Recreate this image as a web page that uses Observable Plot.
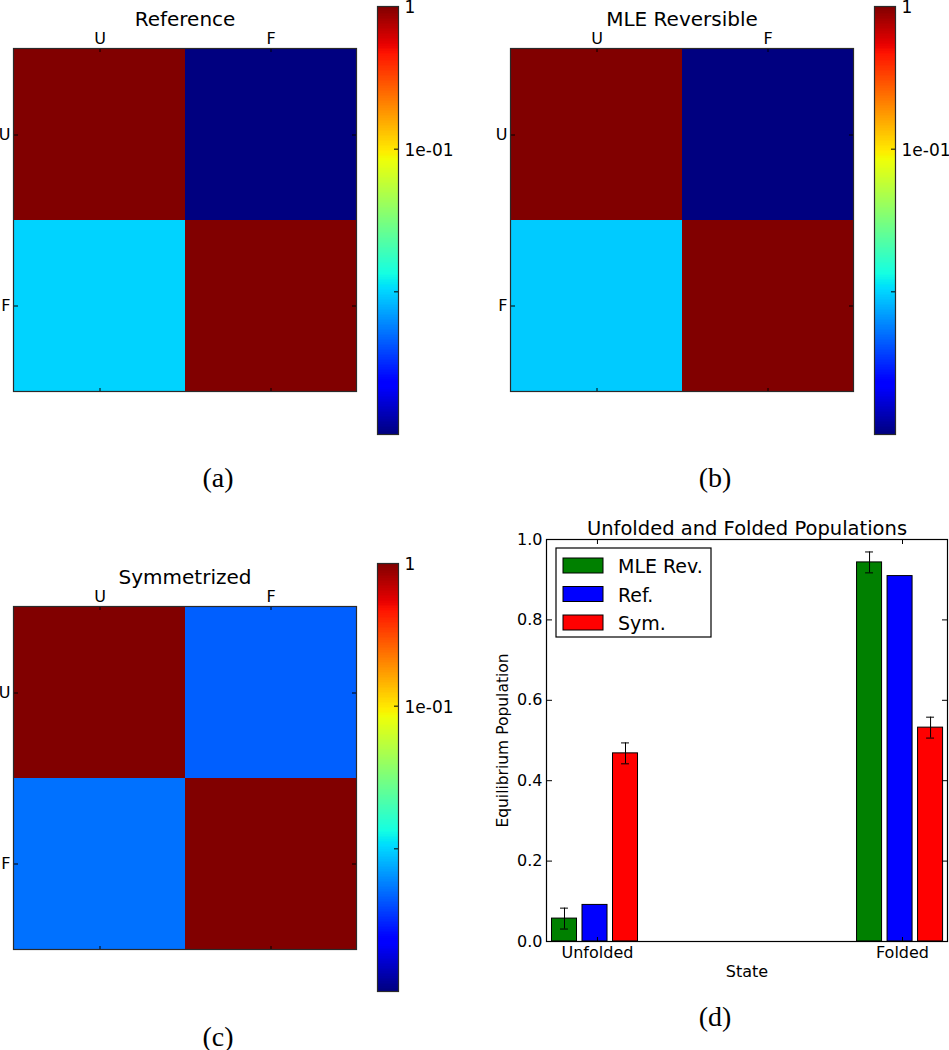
<!DOCTYPE html>
<html>
<head>
<meta charset="utf-8">
<script src="https://cdn.jsdelivr.net/npm/d3@7"></script>
<script src="https://cdn.jsdelivr.net/npm/@observablehq/plot@0.6"></script>
<style>
  body { margin: 0; background: #fff; }
  #fig { position: relative; width: 949px; height: 1050px; overflow: hidden; background: #fff; color: #000; }
  #fig > * { position: absolute; }
</style>
</head>
<body>
<div id="fig"></div>
<script>
// ---------------- data ----------------
const states = ["U", "F"];
// transition matrices, row-major (row U: U,F ; row F: U,F)
const referenceMatrix = [0.99, 0.001, 0.0099, 0.99];
const mleReversibleMatrix = [0.99, 0.001, 0.0094, 0.99];
const symmetrizedMatrix = [0.99, 0.0045, 0.0051, 0.99];
const colorDomain = [0.001, 1];
const colorbarTicks = [1, 0.1, 0.01];
const colorbarTickLabels = ["1", "1e-01", ""];

const groups = ["Unfolded", "Folded"];
const seriesNames = ["MLE Rev.", "Ref.", "Sym."];
const mleRevPop = [0.057, 0.943];
const mleRevErr = [0.026, 0.026];
const refPop = [0.091, 0.909];
const refErr = [0, 0];
const symPop = [0.468, 0.532];
const symErr = [0.026, 0.026];
const seriesColors = ["#008000", "#0000ff", "#ff0000"];
const popTicks = [0, 0.2, 0.4, 0.6, 0.8, 1.0];

// ---------------- matplotlib "jet" ----------------
const JET = {
  r: [[0, 0], [0.35, 0], [0.66, 1], [0.89, 1], [1, 0.5]],
  g: [[0, 0], [0.125, 0], [0.375, 1], [0.64, 1], [0.91, 0], [1, 0]],
  b: [[0, 0.5], [0.11, 1], [0.34, 1], [0.65, 0], [1, 0]]
};
function seg(pts, t) {
  for (let i = 1; i < pts.length; i++) {
    if (t <= pts[i][0]) {
      const [x0, y0] = pts[i - 1], [x1, y1] = pts[i];
      return y0 + (y1 - y0) * (t - x0) / (x1 - x0);
    }
  }
  return pts[pts.length - 1][1];
}
function jet(t) {
  t = Math.max(0, Math.min(1, t));
  const c = v => Math.round(255 * v);
  return `rgb(${c(seg(JET.r, t))},${c(seg(JET.g, t))},${c(seg(JET.b, t))})`;
}
const colorScale = { type: "log", domain: colorDomain, interpolate: jet };

const fig = document.getElementById("fig");
const FONT = "DejaVu Sans, Verdana, sans-serif";
function place(el, left, top) {
  el.style.left = left + "px";
  el.style.top = top + "px";
  fig.appendChild(el);
}

// ---------------- heatmap panels ----------------
function heatmap(title, matrix, marginLeft, width) {
  const cells = states.flatMap((r, i) => states.map((c, j) => ({ row: r, col: c, value: matrix[i * states.length + j] })));
  return Plot.plot({
    width, height: 400,
    marginLeft, marginRight: width - marginLeft - 343, marginTop: 48, marginBottom: 9,
    style: { fontFamily: FONT, fontSize: "16px", background: "transparent", color: "#000", overflow: "visible" },
    x: { domain: states, padding: 0, axis: null },
    y: { domain: states, padding: 0, axis: null },
    color: colorScale,
    marks: [
      Plot.cell(cells, { x: "col", y: "row", fill: "value", inset: 0, shapeRendering: "crispEdges" }),
      Plot.axisX({ anchor: "top", tickSize: 0, tickPadding: 5, label: null, fontSize: 16 }),
      Plot.axisX({ anchor: "bottom", frameAnchor: "top", tickSize: 4, fill: "none", label: null }),
      Plot.axisX({ anchor: "top", frameAnchor: "bottom", tickSize: 4, fill: "none", label: null }),
      Plot.axisY({ anchor: "left", tickSize: 0, tickPadding: 3, label: null, fontSize: 16 }),
      Plot.axisY({ anchor: "right", frameAnchor: "left", tickSize: 4, fill: "none", label: null }),
      Plot.axisY({ anchor: "left", frameAnchor: "right", tickSize: 4, fill: "none", label: null }),
      Plot.frame({ stroke: "#2a2a2a", strokeWidth: 1.2 }),
      Plot.text([title], { text: d => d, frameAnchor: "top", dy: -23, lineAnchor: "bottom", fontSize: 20 })
    ]
  });
}

function colorbar(width) {
  const N = 256;
  const l0 = Math.log10(colorDomain[0]), l1 = Math.log10(colorDomain[1]);
  const bands = d3.range(N).map(i => {
    const lo = Math.pow(10, l0 + (l1 - l0) * i / N);
    const hi = Math.pow(10, l0 + (l1 - l0) * (i + 1) / N);
    return { lo, hi, mid: Math.sqrt(lo * hi) };
  });
  return Plot.plot({
    width, height: 440,
    marginLeft: 17, marginRight: width - 17 - 21, marginTop: 6, marginBottom: 6,
    style: { fontFamily: FONT, fontSize: "17px", background: "transparent", color: "#000", overflow: "visible" },
    x: { domain: [0, 1], axis: null },
    y: { type: "log", domain: colorDomain, axis: null },
    color: colorScale,
    marks: [
      Plot.rect(bands, { x1: 0, x2: 1, y1: "lo", y2: "hi", fill: "mid", shapeRendering: "crispEdges" }),
      Plot.axisY({ anchor: "right", ticks: colorbarTicks, tickSize: 0, tickPadding: 6, label: null, fontSize: 17, dy: 1,
        tickFormat: d => colorbarTickLabels[colorbarTicks.indexOf(d)] }),
      Plot.axisY({ anchor: "left", frameAnchor: "right", ticks: colorbarTicks, tickSize: 4, fill: "none", label: null }),
      Plot.frame({ stroke: "#2a2a2a", strokeWidth: 1.2 })
    ]
  });
}

place(heatmap("Reference", referenceMatrix, 13, 370), 0, 0);
place(colorbar(90), 360, 0);
place(heatmap("MLE Reversible", mleReversibleMatrix, 40, 400), 470, 0);
place(colorbar(92), 857, 0);
place(heatmap("Symmetrized", symmetrizedMatrix, 13, 370), 0, 558);
place(colorbar(90), 360, 557);

// ---------------- bar chart ----------------
const seriesValues = [mleRevPop, refPop, symPop];
const seriesErrors = [mleRevErr, refErr, symErr];
const barWidth = 0.082, barStep = 0.1, barShift = -0.008;
const barData = seriesNames.flatMap((s, k) => groups.map((g, i) => {
  const c = i + (k - 1) * barStep + barShift;
  return { series: s, color: seriesColors[k], c, x1: c - barWidth / 2, x2: c + barWidth / 2,
           value: seriesValues[k][i], err: seriesErrors[k][i] };
}));
const errData = barData.filter(d => d.err > 0);
const capHalf = 0.013;

const bars = Plot.plot({
  width: 469, height: 500,
  marginLeft: 66, marginRight: 2, marginTop: 39, marginBottom: 59,
  style: { fontFamily: FONT, fontSize: "16px", background: "transparent", color: "#000", overflow: "visible" },
  x: { domain: [-0.167, 1.1475], axis: null },
  y: { domain: [0, 1], axis: null },
  marks: [
    Plot.rect(barData, { x1: "x1", x2: "x2", y1: 0, y2: "value", fill: "color", stroke: "#000", strokeWidth: 1 }),
    Plot.ruleX(errData, { x: "c", y1: d => d.value - d.err, y2: d => d.value + d.err, stroke: "#000", strokeWidth: 1 }),
    Plot.ruleY(errData, { y: d => d.value + d.err, x1: d => d.c - capHalf, x2: d => d.c + capHalf, stroke: "#000", strokeWidth: 1 }),
    Plot.ruleY(errData, { y: d => d.value - d.err, x1: d => d.c - capHalf, x2: d => d.c + capHalf, stroke: "#000", strokeWidth: 1 }),
    Plot.axisY({ anchor: "left", ticks: popTicks, tickFormat: ".1f", tickSize: 0, tickPadding: 4, label: null, fontSize: 16 }),
    Plot.axisY({ anchor: "right", frameAnchor: "left", ticks: popTicks, tickSize: 5, fill: "none", label: null }),
    Plot.axisY({ anchor: "left", frameAnchor: "right", ticks: popTicks, tickSize: 5, fill: "none", label: null }),
    Plot.axisX({ anchor: "bottom", ticks: [0, 1], tickFormat: i => groups[i], tickSize: 0, tickPadding: 5, label: null, fontSize: 16 }),
    Plot.axisX({ anchor: "bottom", frameAnchor: "top", ticks: [0, 1], tickSize: 5, fill: "none", label: null }),
    Plot.axisX({ anchor: "top", frameAnchor: "bottom", ticks: [0, 1], tickSize: 5, fill: "none", label: null }),
    Plot.frame({ stroke: "#000", strokeWidth: 1.2 }),
    Plot.text(["Unfolded and Folded Populations"], { text: d => d, frameAnchor: "top", dy: -5, lineAnchor: "bottom", fontSize: 19.5 }),
    Plot.text(["State"], { text: d => d, frameAnchor: "bottom", dy: 30, lineAnchor: "middle", fontSize: 16 }),
    Plot.text(["Equilibrium Population"], { text: d => d, frameAnchor: "left", dx: -43, rotate: -90, textAnchor: "middle", lineAnchor: "middle", fontSize: 15.5 })
  ]
});
place(bars, 480, 500);

// ---------------- overlay: legend and captions ----------------
const overlay = d3.create("svg").attr("width", 949).attr("height", 1050)
  .style("pointer-events", "none");
const lg = overlay.append("g").attr("transform", "translate(556,548)");
lg.append("rect").attr("width", 155).attr("height", 89).attr("fill", "#fff").attr("stroke", "#000").attr("stroke-width", 1.2);
seriesNames.forEach((s, k) => {
  const y = 10 + k * 28.5;
  lg.append("rect").attr("x", 7).attr("y", y).attr("width", 40).attr("height", 15)
    .attr("fill", seriesColors[k]).attr("stroke", "#000").attr("stroke-width", 1);
  lg.append("text").attr("x", 62).attr("y", y + 15).attr("font-family", FONT).attr("font-size", 19).text(s);
});
const captions = [["(a)", 218, 487], ["(b)", 715, 487], ["(c)", 218, 1045.5], ["(d)", 715, 1026]];
captions.forEach(([t, x, y]) => {
  overlay.append("text").attr("x", x).attr("y", y).attr("text-anchor", "middle")
    .attr("font-family", "Liberation Serif, Times New Roman, serif").attr("font-size", 28).text(t);
});
place(overlay.node(), 0, 0);
</script>
</body>
</html>
